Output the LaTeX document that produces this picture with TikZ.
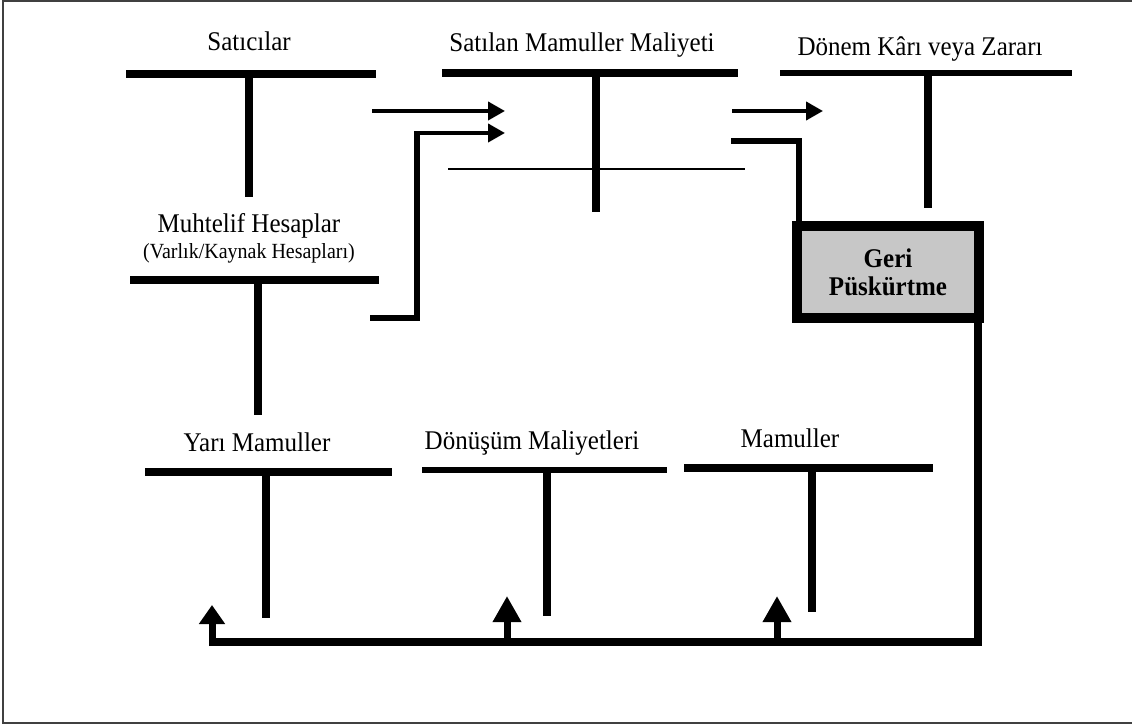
\documentclass[tikz,border=0pt]{standalone}
\usepackage{fontspec}
\usepackage{graphicx}
\setmainfont{Liberation Serif}
\usetikzlibrary{arrows.meta}
% labels are set slightly taller than wide
\newcommand{\tall}[1]{\scalebox{1}[1.08]{#1}}
\begin{document}
\begin{tikzpicture}[x=1pt,y=-1pt,
  lbl/.style={font=\fontsize{25}{27}\selectfont, inner sep=0pt, anchor=base},
  sublbl/.style={font=\fontsize{20}{22}\selectfont, inner sep=0pt, anchor=base},
  bar/.style={line width=8pt},
  stem/.style={line width=7.5pt},
  flow/.style={line width=4pt, -{Triangle[length=17pt,width=18pt]}},
  thinrule/.style={line width=2pt},
  bent/.style={line width=6pt, line join=miter},
  feed/.style={line width=8.5pt, line join=miter},
  uparrow/.style={line width=7pt, -{Triangle[length=26pt,width=27pt]}},
  boxstyle/.style={draw, line width=9.5pt, fill=black!22, minimum width=182pt,
    minimum height=92pt, inner sep=0pt, align=center,
    font=\fontsize{25}{28}\selectfont\bfseries}]
\useasboundingbox (0,0) rectangle (1132,727);
% outer frame
\draw[line width=2pt, black!75] (1140,1) -- (3,1) -- (3,723) -- (1140,723);

% --- top row of T-accounts ---
\node[lbl] (sat) at (249,51) {\tall{Satıcılar}};
\coordinate (satL) at (126,74); \coordinate (satR) at (376,74);
\coordinate (satT) at (249,74); \coordinate (satB) at (249,197);
\draw[bar] (satL) -- (satR);
\draw[stem] (satT) -- (satB);

\node[lbl] (smm) at (582,52) {\tall{Satılan Mamuller Maliyeti}};
\coordinate (smmL) at (442,73); \coordinate (smmR) at (738,73);
\coordinate (smmT) at (596,73); \coordinate (smmB) at (596,212);
\draw[bar] (smmL) -- (smmR);
\draw[stem] (smmT) -- (smmB);
\coordinate (ruleL) at (448,169); \coordinate (ruleR) at (745,169);
\draw[thinrule] (ruleL) -- (ruleR);

\node[lbl] (dkz) at (920,56) {\tall{Dönem Kârı veya Zararı}};
\coordinate (dkzL) at (780,73); \coordinate (dkzR) at (1072,73);
\coordinate (dkzT) at (928,73); \coordinate (dkzB) at (928,208);
\draw[line width=6.5pt] (dkzL) -- (dkzR);
\draw[stem] (dkzT) -- (dkzB);

% --- Muhtelif Hesaplar ---
\node[lbl] (muh) at (249,233) {\tall{Muhtelif Hesaplar}};
\node[sublbl] (muhsub) at (249,259) {\tall{(Varlık/Kaynak Hesapları)}};
\coordinate (muhL) at (130,280); \coordinate (muhR) at (379,280);
\coordinate (muhT) at (258,280); \coordinate (muhB) at (258,415);
\draw[bar] (muhL) -- (muhR);
\draw[stem] (muhT) -- (muhB);

% --- flows into Satılan Mamuller Maliyeti ---
\coordinate (a1s) at (372,111); \coordinate (a1e) at (505,111);
\draw[flow] (a1s) -- (a1e);
\coordinate (muhOut) at (370,318); \coordinate (k1) at (417,318);
\coordinate (k2) at (417,131); \coordinate (k3) at (414,133);
\coordinate (a2e) at (505,133);
\draw[bent] (muhOut) -- (k1) -- (k2);
\draw[flow] (k3) -- (a2e);

% --- flows out of Satılan Mamuller Maliyeti ---
\coordinate (a3s) at (732,111); \coordinate (a3e) at (823,111);
\draw[flow] (a3s) -- (a3e);

\node[boxstyle] (geri) at (888,272) {\tall{Geri}\\\tall{Püskürtme}};
\coordinate (bs) at (731,141); \coordinate (bk) at (799,141);
\draw[bent] (bs) -- (bk) -- (bk |- geri.north);

% --- bottom row of T-accounts ---
\node[lbl] (yari) at (257,451) {\tall{Yarı Mamuller}};
\coordinate (yariL) at (145,472); \coordinate (yariR) at (392,472);
\coordinate (yariT) at (266,472); \coordinate (yariB) at (266,618);
\draw[bar] (yariL) -- (yariR);
\draw[stem] (yariT) -- (yariB);

\node[lbl] (donusum) at (532,449) {\tall{Dönüşüm Maliyetleri}};
\coordinate (donL) at (422,470); \coordinate (donR) at (667,470);
\coordinate (donT) at (547,470); \coordinate (donB) at (547,616);
\draw[line width=6pt] (donL) -- (donR);
\draw[stem] (donT) -- (donB);

\node[lbl] (mam) at (790,447) {\tall{Mamuller}};
\coordinate (mamL) at (684,468); \coordinate (mamR) at (933,468);
\coordinate (mamT) at (812,468); \coordinate (mamB) at (812,612);
\draw[bar] (mamL) -- (mamR);
\draw[stem] (mamT) -- (mamB);

% --- backflush feedback loop ---
\coordinate (rv) at (978,322);
\coordinate (br) at (978,642); \coordinate (bl) at (209,642);
\draw[feed] (rv) -- (br) -- (bl);
\coordinate (u1s) at (212,646); \coordinate (u1e) at (212,605);
\draw[line width=7pt, -{Triangle[length=19pt,width=25pt]}] (u1s) -- (u1e);
\coordinate (u2s) at (507,642); \coordinate (u2e) at (507,596);
\draw[uparrow] (u2s) -- (u2e);
\coordinate (u3s) at (777,642); \coordinate (u3e) at (777,596);
\draw[uparrow] (u3s) -- (u3e);
\end{tikzpicture}
\end{document}
